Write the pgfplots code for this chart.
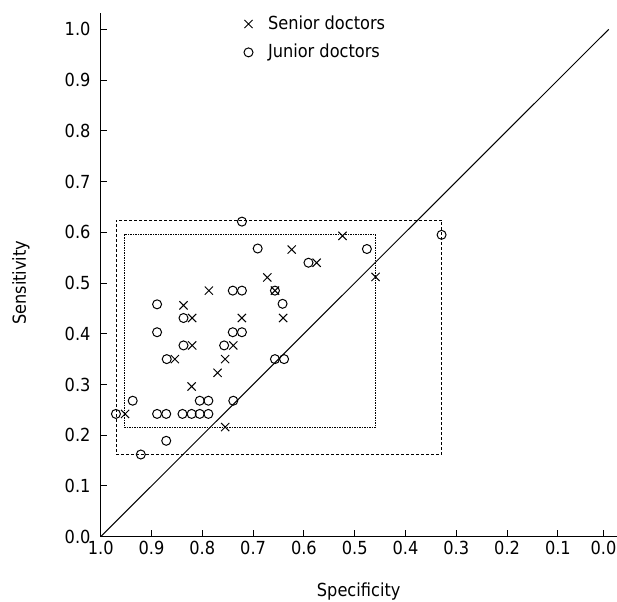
\documentclass[border=0pt]{standalone}
\usepackage{fontspec}
\setmainfont{DejaVu Sans Condensed}
\usepackage{pgfplots}
\pgfplotsset{compat=1.18}
\begin{document}
\fontsize{18pt}{22pt}\selectfont
\begin{tikzpicture}
\path[use as bounding box] (-100.7pt,-64.3pt) rectangle (516.3pt,536.7pt);
\begin{axis}[
  at={(0pt,0pt)}, anchor=south west,
  scale only axis, width=516.0pt, height=523.6pt,
  xmin=-0.0157, xmax=1, ymin=0, ymax=1.032, x dir=reverse,
  axis x line=bottom, axis y line=left,
  axis line style={-, line width=1pt, black},
  tick align=inside, major tick length=6.7pt,
  tick style={line width=1pt, black},
  xtick={0.0103,0.1,0.2,0.3,0.4,0.5,0.6,0.7,0.8,0.9,1.0},
  xticklabels={0.0,0.1,0.2,0.3,0.4,0.5,0.6,0.7,0.8,0.9,1.0},
  ytick={0,0.1,...,1},
  /pgf/number format/fixed, /pgf/number format/fixed zerofill,
  /pgf/number format/precision=1, /pgf/number format/assume math mode=true,
  xticklabel style={anchor=north, inner sep=0pt, yshift=-4pt},
  yticklabel style={anchor=east, inner sep=0pt, xshift=-10pt},
  xlabel={Specificity}, ylabel={Sensitivity},
  every axis x label/.style={at={([yshift=-59.5pt]axis description cs:0.5,0)}, anchor=base},
  every axis y label/.style={at={([xshift=-74.7pt]axis description cs:0,0.485)}, rotate=90, anchor=base},
  clip=false,
  legend style={draw=none, fill=none, at={(axis cs:0.7183,1.027)}, anchor=north west,
    inner sep=0pt, row sep=12pt, column sep=0pt,
    nodes={inner sep=0pt}},
  legend cell align=left,
  legend image code/.code={\draw[#1] plot coordinates {(0pt,0pt)};},
  /tikz/every odd column/.append style={column sep=15pt},
]
\addplot[forget plot, black, line width=0.8pt, dash pattern=on 3pt off 2pt] coordinates {
(0.970,0.162) (0.329,0.162) (0.329,0.624) (0.970,0.624) (0.970,0.162)};
\addplot[forget plot, black, line width=0.8pt, dash pattern=on 1.5pt off 1pt] coordinates {
(0.954,0.216) (0.459,0.216) (0.459,0.595) (0.954,0.595) (0.954,0.216)};
\addplot[forget plot, black, line width=1pt] coordinates {(1,0) (0,1)};
\addplot[only marks, mark=x, mark size=5.8pt, mark options={line width=1pt, black}] coordinates {
(0.672,0.511) (0.787,0.485) (0.657,0.485) (0.837,0.456) (0.820,0.431)
(0.722,0.431) (0.820,0.377) (0.739,0.377) (0.854,0.350) (0.755,0.350)
(0.770,0.323) (0.624,0.566) (0.524,0.593) (0.575,0.540) (0.459,0.512)
(0.641,0.431) (0.821,0.296) (0.952,0.242) (0.755,0.216)};
\addlegendentry{Senior doctors}
\addplot[only marks, mark=o, mark size=4.5pt, mark options={line width=1pt, black}] coordinates {
(0.722,0.621) (0.691,0.568) (0.740,0.485) (0.722,0.485) (0.657,0.485)
(0.889,0.458) (0.837,0.431) (0.889,0.403) (0.740,0.403) (0.722,0.403)
(0.837,0.377) (0.757,0.377) (0.870,0.350) (0.657,0.350) (0.639,0.350)
(0.476,0.567) (0.591,0.540) (0.642,0.459) (0.329,0.595) (0.937,0.268)
(0.805,0.268) (0.788,0.268) (0.739,0.268) (0.970,0.242) (0.889,0.242)
(0.871,0.242) (0.839,0.242) (0.821,0.242) (0.805,0.242) (0.788,0.242)
(0.871,0.189) (0.921,0.162)};
\addlegendentry{Junior doctors}
\end{axis}
\end{tikzpicture}
\end{document}
